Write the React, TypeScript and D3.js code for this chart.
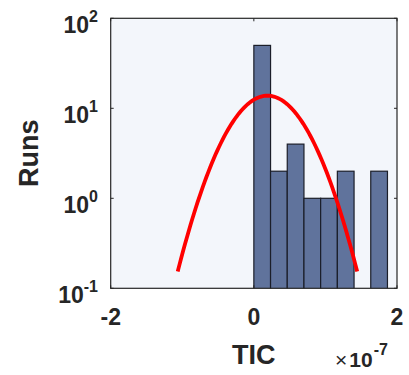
import React from "react";
import * as d3 from "d3";

// Histogram bin edges (x in units of 1e-7) and counts per bin
const binEdges = [0, 0.2333, 0.4667, 0.7, 0.9333, 1.1667, 1.4, 1.6333, 1.8667];
const binCounts = [50, 2, 4, 1, 1, 2, 0, 2];

// Normal fit parameters (units of 1e-7)
const fitMean = 0.19;
const fitSigma = 0.418;

const xTicks = [-2, 0, 2];
const yTickExponents = [-1, 0, 1, 2];

const W = 409;
const H = 375;
const plot = { left: 110.7, right: 397, top: 18.3, bottom: 288.3 };

export default function App() {
  const x = d3.scaleLinear().domain([-2, 2]).range([plot.left, plot.right]);
  const y = d3.scaleLog().domain([0.1, 100]).range([plot.bottom, plot.top]);

  const total = d3.sum(binCounts);
  const binWidth = binEdges[1] - binEdges[0];
  const amp = (total * binWidth) / (fitSigma * Math.sqrt(2 * Math.PI));
  const fitXs = d3.range(0, 101).map(
    (i) => fitMean - 3 * fitSigma + (6 * fitSigma * i) / 100
  );
  const fitPts: [number, number][] = fitXs.map((v) => [
    v,
    amp * Math.exp(-((v - fitMean) ** 2) / (2 * fitSigma ** 2)),
  ]);
  const line = d3
    .line<[number, number]>()
    .x((d) => x(d[0]))
    .y((d) => y(d[1]));

  const axisColor = "#262626";
  const font = "'Liberation Sans', Arial, Helvetica, sans-serif";
  const tickLen = 3;

  return (
    <svg
      width={W}
      height={H}
      style={{ position: "absolute", left: 0, top: 0, background: "#ffffff" }}
      fontFamily={font}
    >
      <rect
        x={plot.left}
        y={plot.top}
        width={plot.right - plot.left}
        height={plot.bottom - plot.top}
        fill="#f3f6fb"
      />
      <defs>
        <clipPath id="plotClip">
          <rect
            x={plot.left}
            y={plot.top}
            width={plot.right - plot.left}
            height={plot.bottom - plot.top}
          />
        </clipPath>
      </defs>
      <g clipPath="url(#plotClip)">
        {binCounts.map((c, i) =>
          c > 0 ? (
            <rect
              key={i}
              x={x(binEdges[i])}
              y={y(c)}
              width={x(binEdges[i + 1]) - x(binEdges[i])}
              height={plot.bottom - y(c) + 2}
              fill="#60739c"
              stroke="#1b1e29"
              strokeWidth={1.2}
            />
          ) : null
        )}
        <path
          d={line(fitPts) || ""}
          fill="none"
          stroke="#ff0000"
          strokeWidth={3.8}
        />
      </g>
      {/* tick marks on all four sides */}
      {xTicks.map((t) => (
        <g key={"xt" + t}>
          <line x1={x(t)} x2={x(t)} y1={plot.bottom} y2={plot.bottom - tickLen} stroke={axisColor} />
          <line x1={x(t)} x2={x(t)} y1={plot.top} y2={plot.top + tickLen} stroke={axisColor} />
        </g>
      ))}
      {yTickExponents.map((e) => (
        <g key={"yt" + e}>
          <line x1={plot.left} x2={plot.left + tickLen} y1={y(10 ** e)} y2={y(10 ** e)} stroke={axisColor} />
          <line x1={plot.right} x2={plot.right - tickLen} y1={y(10 ** e)} y2={y(10 ** e)} stroke={axisColor} />
        </g>
      ))}
      <rect
        x={plot.left}
        y={plot.top}
        width={plot.right - plot.left}
        height={plot.bottom - plot.top}
        fill="none"
        stroke={axisColor}
        strokeWidth={1.2}
      />
      {/* x tick labels */}
      {xTicks.map((t) => (
        <text
          key={"xl" + t}
          x={x(t)}
          y={plot.bottom + 37}
          textAnchor="middle"
          fontSize={23}
          fontWeight="bold"
          fill={axisColor}
        >
          {t < 0 ? "-" + Math.abs(t) : String(t)}
        </text>
      ))}
      {/* y tick labels */}
      {yTickExponents.map((e) => (
        <text
          key={"yl" + e}
          x={98}
          y={y(10 ** e) + 15}
          textAnchor="end"
          fontSize={23}
          fontWeight="bold"
          fill={axisColor}
        >
          10
          <tspan fontSize={16} dy={-11}>
            {e < 0 ? "-" + Math.abs(e) : String(e)}
          </tspan>
        </text>
      ))}
      {/* axis labels */}
      <text
        x={(plot.left + plot.right) / 2}
        y={364}
        textAnchor="middle"
        fontSize={27}
        fontWeight="bold"
        fill={axisColor}
      >
        TIC
      </text>
      <text
        transform={`translate(38, ${(plot.top + plot.bottom) / 2}) rotate(-90)`}
        textAnchor="middle"
        fontSize={27}
        fontWeight="bold"
        fill={axisColor}
      >
        Runs
      </text>
      {/* exponent multiplier */}
      <text x={335} y={367} fontSize={21} fill={axisColor}>
        <tspan fontWeight="normal">×</tspan>
        <tspan fontWeight="bold" dx={2}>10</tspan>
        <tspan fontSize={16} fontWeight="bold" dx={1} dy={-12}>
          -7
        </tspan>
      </text>
    </svg>
  );
}
